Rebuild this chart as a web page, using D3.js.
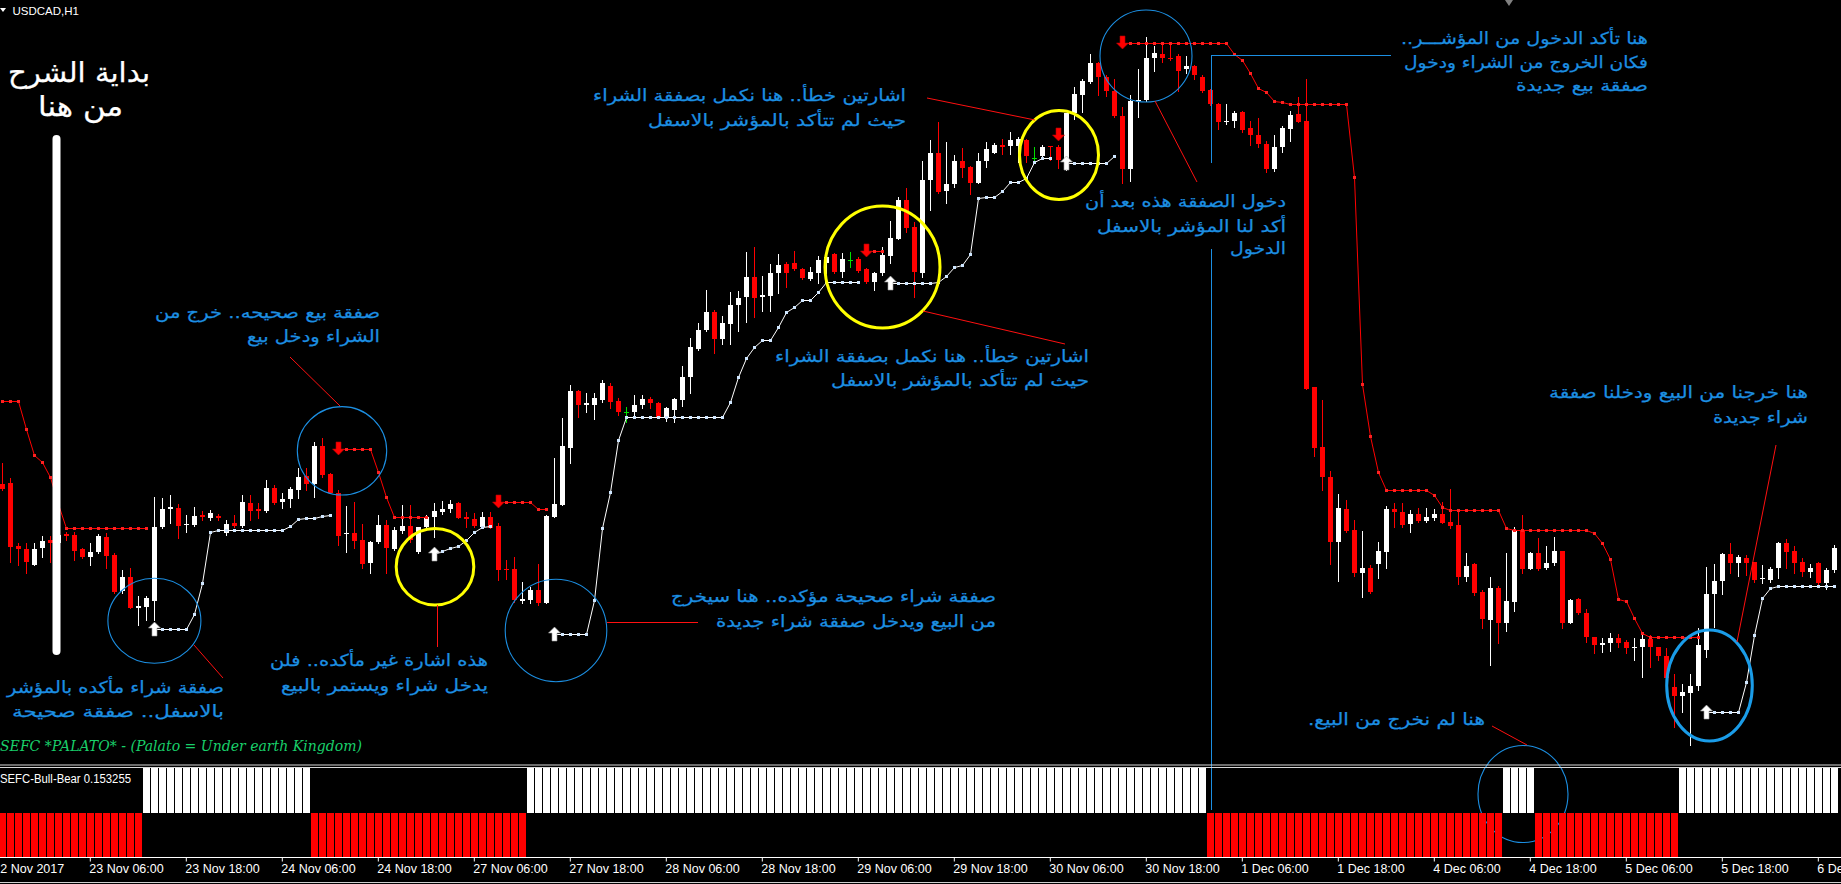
<!DOCTYPE html>
<html><head><meta charset="utf-8">
<script src="https://cdn.jsdelivr.net/npm/d3@7"></script>
<style>html,body{margin:0;padding:0;background:#000;overflow:hidden}svg{display:block}</style>
</head><body><svg id="c" width="1841" height="884"></svg>
<script>
// ---------------- DATA (USDCAD H1) ----------------
const open = [1.27504,1.27508,1.27256,1.27244,1.27180,1.27248,1.27280,1.27268,1.27304,1.27300,
1.27244,1.27212,1.27232,1.27292,1.27220,1.27076,1.27132,1.27008,1.27012,1.27036,
1.27332,1.27404,1.27408,1.27340,1.27340,1.27380,1.27368,1.27376,1.27308,1.27348,
1.27336,1.27428,1.27404,1.27396,1.27488,1.27432,1.27444,1.27480,1.27536,1.27504,
1.27656,1.27544,1.27468,1.27304,1.27308,1.27280,1.27188,1.27272,1.27340,1.27244,
1.27316,1.27336,1.27232,1.27332,1.27372,1.27392,1.27404,1.27428,1.27372,1.27364,
1.27332,1.27372,1.27336,1.27164,1.27164,1.27036,1.27040,1.27080,1.27028,1.27372,
1.27420,1.27648,1.27876,1.27820,1.27820,1.27840,1.27896,1.27836,1.27792,1.27792,
1.27820,1.27844,1.27828,1.27772,1.27800,1.27840,1.27932,1.28044,1.28120,1.28192,
1.28084,1.28144,1.28220,1.28252,1.28332,1.28252,1.28256,1.28348,1.28384,1.28388,
1.28364,1.28324,1.28348,1.28388,1.28424,1.28352,1.28400,1.28404,1.28364,1.28312,
1.28348,1.28416,1.28484,1.28640,1.28532,1.28348,1.28720,1.28828,1.28676,1.28704,
1.28796,1.28772,1.28708,1.28796,1.28828,1.28860,1.28856,1.28856,1.28880,1.28808,
1.28816,1.28856,1.28852,1.28792,1.28988,1.29060,1.29112,1.29188,1.29132,1.29076,
1.28976,1.28764,1.29036,1.29040,1.29208,1.29224,1.29208,1.29216,1.29164,1.29176,
1.29132,1.29080,1.29024,1.28952,1.28956,1.28992,1.28928,1.28900,1.28864,1.28764,
1.28852,1.28924,1.28984,1.28956,1.27892,1.27652,1.27532,1.27272,1.27404,1.27320,
1.27148,1.27168,1.27184,1.27232,1.27404,1.27392,1.27344,1.27384,1.27356,1.27368,
1.27384,1.27352,1.27340,1.27132,1.27184,1.27072,1.26960,1.27088,1.26948,1.27032,
1.27320,1.27164,1.27228,1.27168,1.27188,1.27236,1.26948,1.27044,1.26988,1.26892,
1.26860,1.26868,1.26888,1.26872,1.26848,1.26852,1.26884,1.26852,1.26816,1.26692,
1.26656,1.26668,1.26696,1.26840,1.27064,1.27116,1.27224,1.27188,1.27208,1.27192,
1.27124,1.27120,1.27168,1.27268,1.27236,1.27192,1.27152,1.27188,1.27108,1.27160];

const high = [1.27588,1.27528,1.27268,1.27268,1.27268,1.27296,1.27296,1.27320,1.27312,1.27312,
1.27248,1.27268,1.27304,1.27308,1.27228,1.27160,1.27168,1.27056,1.27056,1.27452,
1.27448,1.27460,1.27424,1.27380,1.27412,1.27396,1.27400,1.27384,1.27360,1.27380,
1.27460,1.27460,1.27428,1.27520,1.27500,1.27468,1.27492,1.27568,1.27568,1.27672,
1.27688,1.27548,1.27480,1.27416,1.27432,1.27344,1.27276,1.27380,1.27360,1.27332,
1.27420,1.27420,1.27332,1.27380,1.27428,1.27436,1.27440,1.27432,1.27392,1.27388,
1.27392,1.27392,1.27348,1.27200,1.27212,1.27112,1.27092,1.27184,1.27380,1.27608,
1.27768,1.27900,1.27880,1.27868,1.27868,1.27920,1.27908,1.27848,1.27812,1.27860,
1.27860,1.27852,1.27832,1.27812,1.27848,1.27976,1.28088,1.28148,1.28280,1.28200,
1.28176,1.28272,1.28276,1.28432,1.28452,1.28336,1.28384,1.28424,1.28392,1.28436,
1.28368,1.28372,1.28416,1.28420,1.28428,1.28428,1.28432,1.28412,1.28368,1.28352,
1.28452,1.28556,1.28652,1.28688,1.28552,1.28796,1.28880,1.28952,1.28872,1.28820,
1.28848,1.28776,1.28828,1.28872,1.28868,1.28884,1.28912,1.28892,1.28884,1.28852,
1.28860,1.28856,1.28860,1.28988,1.29092,1.29124,1.29224,1.29192,1.29140,1.29124,
1.29012,1.29060,1.29164,1.29292,1.29256,1.29264,1.29264,1.29224,1.29216,1.29180,
1.29140,1.29084,1.29028,1.29024,1.28996,1.28996,1.28956,1.28968,1.28876,1.28900,
1.28936,1.28996,1.29052,1.29124,1.27892,1.27840,1.27556,1.27464,1.27440,1.27360,
1.27316,1.27180,1.27272,1.27416,1.27428,1.27428,1.27400,1.27408,1.27408,1.27404,
1.27432,1.27484,1.27400,1.27228,1.27188,1.27080,1.27132,1.27096,1.27228,1.27332,
1.27380,1.27232,1.27288,1.27256,1.27292,1.27236,1.27044,1.27048,1.27004,1.26892,
1.26888,1.26908,1.26904,1.26880,1.26888,1.26908,1.26900,1.26852,1.26848,1.26744,
1.26704,1.26744,1.26928,1.27172,1.27184,1.27228,1.27268,1.27220,1.27220,1.27192,
1.27180,1.27172,1.27272,1.27284,1.27256,1.27208,1.27184,1.27192,1.27168,1.27260];

const low = [1.27480,1.27192,1.27180,1.27148,1.27180,1.27212,1.27192,1.27248,1.27280,1.27200,
1.27208,1.27180,1.27228,1.27168,1.27068,1.27068,1.27008,1.26940,1.26960,1.26960,
1.27328,1.27348,1.27288,1.27312,1.27336,1.27360,1.27360,1.27360,1.27300,1.27332,
1.27332,1.27360,1.27368,1.27392,1.27424,1.27408,1.27412,1.27448,1.27480,1.27452,
1.27532,1.27468,1.27260,1.27232,1.27248,1.27168,1.27148,1.27268,1.27148,1.27240,
1.27308,1.27272,1.27228,1.27328,1.27292,1.27384,1.27392,1.27368,1.27332,1.27332,
1.27328,1.27328,1.27120,1.27124,1.27032,1.27028,1.27028,1.27020,1.27028,1.27372,
1.27420,1.27588,1.27772,1.27792,1.27764,1.27832,1.27808,1.27780,1.27752,1.27780,
1.27808,1.27808,1.27768,1.27756,1.27752,1.27816,1.27868,1.28040,1.28116,1.28028,
1.28064,1.28064,1.28116,1.28152,1.28172,1.28196,1.28196,1.28268,1.28292,1.28360,
1.28324,1.28320,1.28308,1.28348,1.28348,1.28332,1.28372,1.28352,1.28308,1.28280,
1.28340,1.28388,1.28484,1.28512,1.28252,1.28332,1.28600,1.28668,1.28628,1.28692,
1.28732,1.28664,1.28708,1.28772,1.28828,1.28824,1.28824,1.28792,1.28792,1.28792,
1.28808,1.28800,1.28768,1.28760,1.28964,1.28992,1.29108,1.29060,1.29056,1.28972,
1.28708,1.28716,1.28972,1.29036,1.29156,1.29192,1.29200,1.29076,1.29148,1.29124,
1.29072,1.29020,1.28924,1.28944,1.28932,1.28912,1.28860,1.28852,1.28752,1.28756,
1.28832,1.28876,1.28952,1.27884,1.27616,1.27480,1.27184,1.27116,1.27312,1.27136,
1.27052,1.27068,1.27128,1.27168,1.27332,1.27332,1.27312,1.27352,1.27352,1.27360,
1.27348,1.27328,1.27104,1.27116,1.27060,1.26928,1.26780,1.26868,1.26916,1.26996,
1.27148,1.27164,1.27160,1.27164,1.27180,1.26928,1.26948,1.26984,1.26872,1.26828,
1.26832,1.26836,1.26852,1.26828,1.26800,1.26732,1.26772,1.26800,1.26720,1.26532,
1.26592,1.26460,1.26680,1.26812,1.26932,1.27064,1.27148,1.27136,1.27140,1.27112,
1.27108,1.27112,1.27128,1.27168,1.27148,1.27136,1.27132,1.27100,1.27084,1.27152];

const close = [1.27484,1.27252,1.27244,1.27192,1.27244,1.27276,1.27268,1.27300,1.27296,1.27236,
1.27212,1.27232,1.27296,1.27216,1.27072,1.27132,1.27008,1.27016,1.27048,1.27332,
1.27404,1.27412,1.27336,1.27344,1.27376,1.27372,1.27388,1.27368,1.27344,1.27336,
1.27432,1.27396,1.27396,1.27488,1.27428,1.27444,1.27484,1.27532,1.27504,1.27656,
1.27540,1.27468,1.27296,1.27308,1.27276,1.27184,1.27272,1.27340,1.27248,1.27320,
1.27336,1.27280,1.27332,1.27372,1.27396,1.27404,1.27424,1.27368,1.27364,1.27336,
1.27372,1.27328,1.27160,1.27160,1.27040,1.27044,1.27080,1.27028,1.27376,1.27424,
1.27656,1.27876,1.27820,1.27828,1.27848,1.27908,1.27832,1.27792,1.27792,1.27820,
1.27844,1.27828,1.27772,1.27808,1.27844,1.27932,1.28052,1.28120,1.28192,1.28084,
1.28148,1.28220,1.28248,1.28332,1.28248,1.28260,1.28348,1.28380,1.28348,1.28364,
1.28328,1.28352,1.28400,1.28412,1.28352,1.28404,1.28400,1.28356,1.28312,1.28348,
1.28420,1.28488,1.28640,1.28528,1.28352,1.28720,1.28828,1.28672,1.28704,1.28796,
1.28768,1.28708,1.28796,1.28844,1.28860,1.28852,1.28880,1.28884,1.28816,1.28808,
1.28852,1.28852,1.28800,1.28988,1.29064,1.29116,1.29188,1.29132,1.29076,1.28976,
1.28764,1.29036,1.29040,1.29208,1.29228,1.29208,1.29204,1.29156,1.29176,1.29140,
1.29076,1.29024,1.28952,1.28956,1.28988,1.28920,1.28900,1.28864,1.28764,1.28852,
1.28928,1.28980,1.28952,1.27884,1.27648,1.27532,1.27272,1.27408,1.27316,1.27148,
1.27168,1.27072,1.27236,1.27404,1.27392,1.27340,1.27384,1.27356,1.27372,1.27384,
1.27348,1.27336,1.27132,1.27176,1.27068,1.26964,1.27088,1.26948,1.27036,1.27320,
1.27164,1.27228,1.27164,1.27188,1.27236,1.26948,1.27040,1.26988,1.26892,1.26860,
1.26868,1.26888,1.26868,1.26848,1.26852,1.26884,1.26852,1.26816,1.26728,1.26656,
1.26672,1.26696,1.26860,1.27064,1.27116,1.27224,1.27188,1.27212,1.27188,1.27120,
1.27128,1.27164,1.27268,1.27232,1.27188,1.27152,1.27168,1.27108,1.27160,1.27248];

// trailing stop of the sell side (red) — first bar of each run and its levels
const bearStart = [0, 42, 62, 108, 132, 140];
const bearLevels = [
 [1.27836,1.27836,1.27836,1.27724,1.27620,1.27592,1.27532,1.27424,1.27328,1.27328,1.27328,1.27328,1.27328,1.27328,1.27328,1.27328,1.27328,1.27328,1.27328],
 [1.27644,1.27644,1.27644,1.27644,1.27644,1.27552,1.27452,1.27372,1.27372,1.27372,1.27372,1.27372],
 [1.27432,1.27432,1.27432,1.27432,1.27432,1.27404,1.27404],
 [1.28436,1.28436,1.28436],
 [1.28900],
 [1.29268,1.29268,1.29268,1.29268,1.29268,1.29268,1.29268,1.29268,1.29268,1.29268,1.29268,1.29268,1.29268,1.29268,
  1.29224,1.29200,1.29148,1.29088,1.29072,1.29036,1.29032,
  1.29024,1.29024,1.29024,1.29024,1.29024,1.29024,1.29024,1.29024,
  1.28732,1.27904,1.27696,1.27552,
  1.27480,1.27480,1.27480,1.27480,1.27480,1.27480,1.27460,1.27412,
  1.27400,1.27400,1.27400,1.27400,1.27400,1.27400,1.27400,1.27328,
  1.27320,1.27320,1.27320,1.27320,1.27320,1.27320,1.27320,1.27320,1.27320,1.27320,
  1.27308,1.27268,1.27204,1.27044,1.27036,1.26968,1.26908,
  1.26892,1.26892,1.26892,1.26892,1.26892,1.26892,1.26892]
];
// trailing stop of the buy side (white)
const bullStart = [19, 54, 69, 111, 133, 213];
const bullLevels = [
 [1.26924,1.26924,1.26924,1.26924,1.26924,1.26984,1.27108,1.27312,1.27320,1.27320,1.27320,1.27320,1.27320,1.27320,1.27320,1.27320,1.27320,1.27336,1.27364,1.27368,1.27368,1.27376,1.27380],
 [1.27224,1.27236,1.27248,1.27256,1.27280,1.27312,1.27332,1.27336],
 [1.26904,1.26904,1.26904,1.26904,1.26904,1.27040,1.27328,1.27472,1.27680,
  1.27772,1.27772,1.27772,1.27772,1.27772,1.27772,1.27772,1.27772,1.27772,1.27772,1.27772,1.27772,1.27772,
  1.27832,1.27932,1.28008,1.28052,1.28080,1.28080,1.28132,1.28192,1.28212,1.28240,1.28240,1.28272,
  1.28312,1.28312,1.28312,1.28312,1.28312],
 [1.28308,1.28308,1.28308,1.28308,1.28308,1.28308,1.28312,1.28336,1.28372,1.28380,1.28424,1.28648,1.28652,1.28652,1.28676,1.28712,1.28712,1.28728,1.28792,1.28808,1.28808],
 [1.28788,1.28788,1.28788,1.28788,1.28788,1.28788,1.28816],
 [1.26592,1.26592,1.26592,1.26592,1.26592,1.26712,1.26900,1.27048,1.27088,1.27096,1.27096,1.27096,1.27096,1.27096,1.27096,1.27096,1.27096]
];
const buyArrows = [19, 54, 69, 111, 133, 213];
const sellArrows = [42, 62, 108, 132, 140];

// SEFC-Bull-Bear histogram: first bar of each run and its sign
const histStart = [0, 18, 39, 66, 151, 188, 192, 210];
const histSign  = [-1, 1, -1, 1, -1, 1, -1, 1];

const timeLabelBars = [-1, 11, 23, 35, 47, 59, 71, 83, 95, 107, 119, 131, 143, 155, 167, 179, 191, 203, 215, 227];
const timeLabels = ["22 Nov 2017","23 Nov 06:00","23 Nov 18:00","24 Nov 06:00","24 Nov 18:00","27 Nov 06:00",
 "27 Nov 18:00","28 Nov 06:00","28 Nov 18:00","29 Nov 06:00","29 Nov 18:00","30 Nov 06:00","30 Nov 18:00",
 "1 Dec 06:00","1 Dec 18:00","4 Dec 06:00","4 Dec 18:00","5 Dec 06:00","5 Dec 18:00","6 Dec 06:00"];

// ---------------- LAYOUT ----------------
const W = 1841, H = 884;
const svg = d3.select('#c');
svg.append('rect').attr('width', W).attr('height', H).attr('fill', '#000');
const defs = svg.append('defs');
defs.append('clipPath').attr('id', 'mainClip').append('rect').attr('x', 0).attr('y', 0).attr('width', W).attr('height', 764);

const x = d3.scaleLinear().domain([0, 229]).range([1.8, 1833.8]);
const y = d3.scaleLinear().domain([1.2944, 1.2640]).range([0, 760]);
const px = i => Math.round(x(i));
const py = v => Math.round(y(v));

const main = svg.append('g').attr('clip-path', 'url(#mainClip)').attr('shape-rendering', 'crispEdges');

const bars = open.map((o, i) => ({ i, o, h: high[i], l: low[i], c: close[i] }));
const col = d => d.c > d.o ? '#ffffff' : (d.c < d.o ? '#ff0000' : '#00e000');

main.selectAll('rect.wick').data(bars).join('rect').attr('class', 'wick')
  .attr('x', d => px(d.i)).attr('width', 1)
  .attr('y', d => py(d.h)).attr('height', d => Math.max(1, py(d.l) - py(d.h) + 1))
  .attr('fill', col);
main.selectAll('rect.body').data(bars).join('rect').attr('class', 'body')
  .attr('x', d => px(d.i) - 2).attr('width', 5)
  .attr('y', d => py(Math.max(d.o, d.c)))
  .attr('height', d => Math.max(1, py(Math.min(d.o, d.c)) - py(Math.max(d.o, d.c))))
  .attr('fill', col);

// trailing lines
function trail(starts, levels, stroke, dot) {
  const g = svg.append('g').attr('clip-path', 'url(#mainClip)');
  starts.forEach((s, k) => {
    const pts = levels[k].map((v, j) => ({ i: s + j, v }));
    g.append('path').datum(pts)
      .attr('d', d3.line().x(d => px(d.i) + 0.5).y(d => py(d.v) + 0.5))
      .attr('fill', 'none').attr('stroke', stroke).attr('stroke-width', 1);
    g.selectAll(null).data(pts).join('rect')
      .attr('x', d => px(d.i) - 1).attr('y', d => py(d.v) - 1)
      .attr('width', 3).attr('height', 3).attr('fill', dot)
      .attr('shape-rendering', 'crispEdges');
  });
}
trail(bearStart, bearLevels, '#ff0000', '#ff2020');
trail(bullStart, bullLevels, '#ffffff', '#cfe6ff');

// arrows
function levelAt(starts, levels, i) {
  for (let k = 0; k < starts.length; k++) {
    const j = i - starts[k];
    if (j >= 0 && j < levels[k].length) return levels[k][j];
  }
  return null;
}
const arrowG = svg.append('g');
buyArrows.forEach(i => {
  const cx = px(i) + 0.5, cy = y(levelAt(bullStart, bullLevels, i));
  arrowG.append('path')
    .attr('d', `M${cx},${cy - 7} L${cx + 6},${cy - 1} L${cx + 2.5},${cy - 1} L${cx + 2.5},${cy + 7} L${cx - 2.5},${cy + 7} L${cx - 2.5},${cy - 1} L${cx - 6},${cy - 1} Z`)
    .attr('fill', '#ffffff').attr('stroke', '#9a9a9a').attr('stroke-width', 0.6);
});
sellArrows.forEach(i => {
  const cx = px(i) + 0.5, cy = y(levelAt(bearStart, bearLevels, i));
  arrowG.append('path')
    .attr('d', `M${cx},${cy + 6} L${cx + 6},${cy} L${cx + 2.5},${cy} L${cx + 2.5},${cy - 7} L${cx - 2.5},${cy - 7} L${cx - 2.5},${cy} L${cx - 6},${cy} Z`)
    .attr('fill', '#ff0000').attr('stroke', '#b00000').attr('stroke-width', 0.6);
});

// ---------------- chart objects (annotations) ----------------
const BLUE = '#1c8fe2';
const obj = svg.append('g');
const thinBlue = [[154.4, 620.8, 46.5, 42.5], [342, 450.8, 44.7, 44.2], [556, 630.5, 50.8, 51.2], [1146, 56, 46, 46], [1523, 794, 45, 48.5]];
thinBlue.forEach(e => obj.append('ellipse').attr('cx', e[0]).attr('cy', e[1]).attr('rx', e[2]).attr('ry', e[3])
  .attr('fill', 'none').attr('stroke', BLUE).attr('stroke-width', 1.1));
obj.append('ellipse').attr('cx', 1709.5).attr('cy', 685.5).attr('rx', 42.8).attr('ry', 55.5)
  .attr('fill', 'none').attr('stroke', '#1a9ce8').attr('stroke-width', 3);
const yellow = [[435, 566.7, 38.8, 38.3], [882.5, 267, 57.5, 61], [1059, 155, 39.5, 44.5]];
yellow.forEach(e => obj.append('ellipse').attr('cx', e[0]).attr('cy', e[1]).attr('rx', e[2]).attr('ry', e[3])
  .attr('fill', 'none').attr('stroke', '#ffff00').attr('stroke-width', 3));

const redLines = [[290, 357, 340, 406], [194, 645, 223, 678], [437.5, 605, 437.5, 647], [607, 622.5, 698, 622.5],
  [927, 98, 1035, 120], [923, 311, 1065, 344], [1155, 101, 1197, 182], [1776, 445, 1737, 642], [1492, 726, 1527, 745]];
redLines.forEach(l => obj.append('line').attr('x1', l[0]).attr('y1', l[1]).attr('x2', l[2]).attr('y2', l[3])
  .attr('stroke', '#ff1010').attr('stroke-width', 1));

[[1211, 55.5, 1391, 55.5], [1211.5, 55.5, 1211.5, 163], [1211.5, 249, 1211.5, 810]].forEach(l =>
  obj.append('line').attr('x1', l[0]).attr('y1', l[1]).attr('x2', l[2]).attr('y2', l[3])
    .attr('stroke', BLUE).attr('stroke-width', 1));

obj.append('rect').attr('x', 52.5).attr('y', 135).attr('width', 8).attr('height', 520).attr('rx', 4).attr('fill', '#ffffff');

// Arabic texts: [text, right x, baseline y, width, size, colour]
const notes = [
  ["بداية الشرح", 150, 82, 142, 28, '#ffffff'],
  ["من هنا", 123, 116, 85, 28, '#ffffff'],
  ["صفقة بيع صحيحه.. خرج من", 380, 318, 225, 16.5, BLUE],
  ["الشراء ودخل بيع", 380, 341.5, 133, 16.5, BLUE],
  ["صفقة شراء مأكده بالمؤشر", 224, 693, 217, 16.5, BLUE],
  ["بالاسفل.. صفقة صحيحة", 224, 716.5, 212, 16.5, BLUE],
  ["هذه اشارة غير مأكده.. فلن", 488, 666, 218, 16.5, BLUE],
  ["يدخل شراء ويستمر بالبيع", 488, 691, 207, 16.5, BLUE],
  ["صفقة شراء صحيحة مؤكده.. هنا سيخرج", 996, 601.5, 325, 16.5, BLUE],
  ["من البيع ويدخل صفقة شراء جديدة", 996, 626.5, 280, 16.5, BLUE],
  ["اشارتين خطأ.. هنا نكمل بصفقة الشراء", 906, 101, 313, 16.5, BLUE],
  ["حيث لم تتأكد بالمؤشر بالاسفل", 906, 126, 258, 16.5, BLUE],
  ["اشارتين خطأ.. هنا نكمل بصفقة الشراء", 1089, 362, 314, 16.5, BLUE],
  ["حيث لم تتأكد بالمؤشر بالاسفل", 1089, 386, 258, 16.5, BLUE],
  ["دخول الصفقة هذه بعد أن", 1286, 206.5, 201, 16.5, BLUE],
  ["أكد لنا المؤشر بالاسفل", 1286, 232, 189, 16.5, BLUE],
  ["الدخول", 1286, 254, 56, 16.5, BLUE],
  ["هنا تأكد الدخول من المؤشـــر..", 1648, 44, 247, 16.5, BLUE],
  ["فكان الخروج من الشراء ودخول", 1648, 67.5, 244, 16.5, BLUE],
  ["صفقة بيع جديدة", 1648, 91, 132, 16.5, BLUE],
  ["هنا خرجنا من البيع ودخلنا صفقة", 1808, 398, 259, 16.5, BLUE],
  ["شراء جديدة", 1808, 422.5, 95, 16.5, BLUE],
  ["هنا لم نخرج من البيع.", 1485, 725, 177, 16.5, BLUE]
];
notes.forEach(n => obj.append('text').text(n[0])
  .attr('x', n[1]).attr('y', n[2]).attr('direction', 'rtl').attr('text-anchor', 'start')
  .attr('textLength', n[3]).attr('lengthAdjust', 'spacingAndGlyphs')
  .attr('font-family', "Tahoma, 'DejaVu Sans', sans-serif").attr('font-size', n[4])
  .attr('fill', n[5]).attr('stroke', n[5]).attr('stroke-width', 0.25));

// titles
svg.append('path').attr('d', 'M0,8 L6,8 L3,12 Z').attr('fill', '#ffffff');
svg.append('text').text('USDCAD,H1').attr('x', 12.5).attr('y', 14.5)
  .attr('font-family', "Tahoma, 'Liberation Sans', Arial, sans-serif").attr('font-size', 11.5).attr('fill', '#ffffff');
svg.append('path').attr('d', 'M1505,0 L1513,0 L1509,6 Z').attr('fill', '#808080');
svg.append('text').text('SEFC *PALATO* - (Palato = Under earth Kingdom)').attr('x', 0).attr('y', 751)
  .attr('font-family', "'DejaVu Serif', serif").attr('font-style', 'italic').attr('font-size', 15)
  .attr('textLength', 362).attr('lengthAdjust', 'spacingAndGlyphs').attr('fill', '#19cf6a');

// ---------------- sub window ----------------
svg.append('line').attr('x1', 0).attr('x2', W).attr('y1', 765).attr('y2', 765).attr('stroke', '#d8d8d8').attr('stroke-width', 1);
svg.append('line').attr('x1', 0).attr('x2', W).attr('y1', 767.5).attr('y2', 767.5).attr('stroke', '#d8d8d8').attr('stroke-width', 1);

const hist = open.map((_, i) => {
  let s = 0;
  histStart.forEach((st, k) => { if (i >= st) s = histSign[k]; });
  return { i, v: s };
});
const yInd = d3.scaleLinear().domain([-1, 1]).range([857, 768]);
svg.append('g').attr('shape-rendering', 'crispEdges').selectAll('rect').data(hist).join('rect')
  .attr('x', d => px(d.i) - 3).attr('width', 7)
  .attr('y', d => Math.round(Math.min(yInd(d.v), yInd(0))))
  .attr('height', d => Math.round(Math.abs(yInd(d.v) - yInd(0))))
  .attr('fill', d => d.v > 0 ? '#ffffff' : '#ff0000');
svg.append('text').text('SEFC-Bull-Bear 0.153255').attr('x', 0).attr('y', 783)
  .attr('font-family', "Tahoma, 'Liberation Sans', Arial, sans-serif").attr('font-size', 12.5)
  .attr('textLength', 131).attr('lengthAdjust', 'spacingAndGlyphs').attr('fill', '#ffffff');

// ---------------- time axis ----------------
svg.append('line').attr('x1', 0).attr('x2', W).attr('y1', 857.5).attr('y2', 857.5).attr('stroke', '#ffffff');
const axis = d3.axisBottom(x).tickValues(timeLabelBars).tickFormat((d, k) => timeLabels[k]).tickSize(4).tickSizeOuter(0);
const ag = svg.append('g').attr('transform', 'translate(0,857.5)').call(axis);
ag.select('.domain').remove();
ag.selectAll('.tick line').attr('stroke', '#ffffff');
ag.selectAll('.tick text').attr('fill', '#ffffff').attr('text-anchor', 'start')
  .attr('x', -1).attr('y', 15).attr('dy', null)
  .attr('font-family', "Tahoma, 'Liberation Sans', Arial, sans-serif").attr('font-size', 12.5);
svg.append('line').attr('x1', 0).attr('x2', W).attr('y1', 882.5).attr('y2', 882.5).attr('stroke', '#cfcfcf');
</script></body></html>
